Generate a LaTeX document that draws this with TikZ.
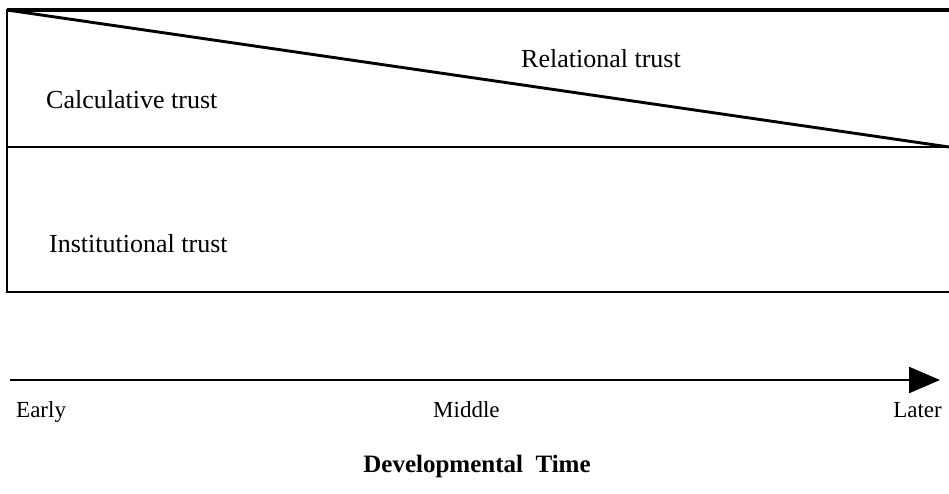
\documentclass[tikz,border=0pt]{standalone}
\usepackage{fontspec}
\setmainfont{Liberation Serif}
\usetikzlibrary{arrows.meta}
\begin{document}
\begin{tikzpicture}[x=1pt,y=-1pt,
  frame/.style={line width=2.6pt},
  lbl/.style={inner sep=0pt,font=\fontsize{26}{31}\selectfont},
  axlbl/.style={inner sep=0pt,font=\fontsize{23}{28}\selectfont},
  ttl/.style={inner sep=0pt,font=\fontsize{25}{30}\selectfont\bfseries}]
\useasboundingbox (0,0) rectangle (949,493);
\coordinate (tl) at (7,10);
\coordinate (tr) at (949,10);
\coordinate (ml) at (7,147);
\coordinate (mr) at (949,147);
\coordinate (bl) at (7,292);
\coordinate (br) at (949,292);
\coordinate (as) at (10,380);
\coordinate (ae) at (940,380);
\draw[frame] (tr) -- (tl) -- (bl) -- (br);
\draw[line width=3.4pt] (tl) -- (tr);
\draw[frame] (ml) -- (mr);
\draw[frame,line width=2.9pt] (tl) -- (mr);
\draw[line width=2.4pt,-{Triangle[length=31pt,width=26pt]}] (as) -- (ae);
\node[lbl,anchor=base west] (rel) at (521,67) {Relational trust};
\node[lbl,anchor=base west] (calc) at (46,108) {Calculative trust};
\node[lbl,anchor=base west] (inst) at (49,252) {Institutional trust};
\node[axlbl,anchor=base west] (early) at (16,417) {Early};
\node[axlbl,anchor=base west] (mid) at (433,417) {Middle};
\node[axlbl,anchor=base east] (later) at (942,417) {Later};
\node[ttl,anchor=base] (title) at (477,472) {Developmental\ \ Time};
\end{tikzpicture}
\end{document}
